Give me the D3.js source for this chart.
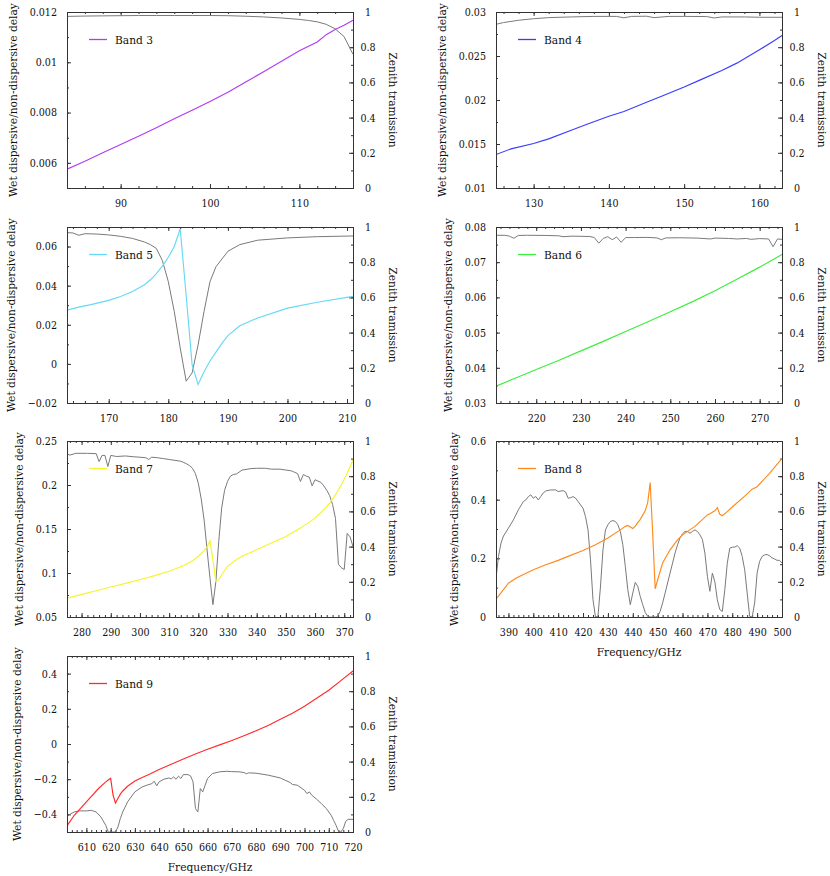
<!DOCTYPE html>
<html><head><meta charset="utf-8">
<script src="https://cdn.jsdelivr.net/npm/d3@7"></script>
<style>
html,body{margin:0;padding:0;background:#fff;}
</style></head><body>
<svg id="c" width="830" height="876"></svg>
<script>
// ---------- DATA ----------
const b3DelayGHz=[84,86,88,90,92,94,96,98,100,102,104,106,108,110,112,113,114,115,116];
const b3Delay=[0.00575,0.00606,0.0064,0.00673,0.00706,0.0074,0.00775,0.00809,0.00844,0.00881,0.00922,0.00962,0.01004,0.01046,0.01081,0.0111,0.0113,0.01147,0.01167];
const b3TransGHz=[84,86,88,90,92,94,96,98,100,102,104,106,108,110,111,112,113,114,115,116];
const b3Trans=[0.975,0.977,0.978,0.979,0.98,0.98,0.98,0.98,0.98,0.979,0.976,0.972,0.966,0.958,0.952,0.944,0.93,0.905,0.86,0.76];

const b4DelayGHz=[125,127,130,132,135,137,140,142,145,147,150,152,155,157,160,162,163];
const b4Delay=[0.0138,0.01445,0.01506,0.01558,0.01657,0.01721,0.01815,0.0187,0.01974,0.02042,0.02147,0.02223,0.02336,0.02419,0.0257,0.02675,0.02732];
const b4TransGHz=[125,126,128,130,132,135,138,141,142,143,145,146,148,150,153,154,155,158,160,163];
const b4Trans=[0.93,0.94,0.953,0.962,0.968,0.972,0.975,0.975,0.967,0.975,0.976,0.968,0.975,0.975,0.974,0.966,0.972,0.972,0.97,0.97];

const b5DelayGHz=[163,165,167,170,172,174,176,177,178,179,180,181,182,183,184,185,186,187,188,189,190,192,195,200,205,211];
const b5Delay=[0.0275,0.029,0.0303,0.0325,0.0345,0.037,0.0405,0.043,0.0462,0.05,0.0545,0.06,0.069,0.035,-0.0005,-0.0105,-0.004,0.0015,0.006,0.0105,0.0145,0.0195,0.0235,0.0285,0.0315,0.0345];
const b5TransGHz=[163,164,165,166,168,170,172,174,176,177,178,179,180,181,182,183,184,185,186,187,188,190,192,195,200,205,211];
const b5Trans=[0.968,0.966,0.953,0.962,0.96,0.955,0.947,0.935,0.915,0.9,0.878,0.81,0.69,0.52,0.313,0.124,0.171,0.33,0.52,0.69,0.774,0.862,0.9,0.925,0.938,0.945,0.949];

const b6DelayGHz=[211,215,220,225,230,235,240,245,250,255,260,265,270,275];
const b6Delay=[0.0348,0.0369,0.0395,0.0421,0.0448,0.0475,0.0503,0.0531,0.0559,0.0588,0.0619,0.0652,0.0686,0.0722];
const b6TransGHz=[211,213,214,215,216,218,222,225,226,228,230,232,233,234,235,236,237,238,239,240,242,245,247,248,249,252,256,259,260,263,265,267,268,270,272,273,274,275];
const b6Trans=[0.953,0.953,0.948,0.936,0.952,0.953,0.952,0.95,0.945,0.948,0.947,0.946,0.94,0.908,0.935,0.945,0.928,0.943,0.913,0.94,0.94,0.941,0.938,0.928,0.938,0.939,0.937,0.932,0.937,0.935,0.932,0.935,0.93,0.934,0.932,0.888,0.932,0.93];

const b7DelayGHz=[275,280,285,290,295,300,305,310,315,318,320,322,323,324,325,326,327,328,330,333,335,340,345,350,355,360,363,365,367,369,371,373];
const b7Delay=[0.0715,0.0757,0.0799,0.0841,0.0882,0.0924,0.097,0.102,0.1085,0.114,0.119,0.1255,0.13,0.1365,0.115,0.0906,0.0924,0.098,0.1075,0.115,0.119,0.1264,0.134,0.1415,0.151,0.1623,0.172,0.1793,0.189,0.2,0.2133,0.2285];
const b7TransGHz=[275,276,278,282,285,286,287,288,289,290,292,295,298,300,302,303,304,306,308,310,312,314,315,316,317,318,319,320,321,322,323,324,325,326,327,328,329,330,331,332,333,335,338,340,343,345,348,350,352,353,354,355,356,357,358,359,360,361,362,363,364,365,366,367,368,369,370,371,372,373];
const b7Trans=[0.926,0.92,0.93,0.93,0.928,0.883,0.918,0.918,0.855,0.918,0.912,0.915,0.91,0.908,0.905,0.895,0.908,0.905,0.9,0.895,0.89,0.885,0.878,0.87,0.86,0.845,0.815,0.76,0.67,0.55,0.38,0.22,0.07,0.2,0.43,0.62,0.72,0.77,0.8,0.81,0.812,0.835,0.843,0.845,0.845,0.84,0.84,0.835,0.83,0.822,0.815,0.77,0.81,0.8,0.795,0.745,0.78,0.772,0.765,0.745,0.72,0.69,0.64,0.56,0.3,0.28,0.27,0.475,0.455,0.4];

const b8DelayGHz=[385,387,390,393,395,400,405,410,415,420,425,430,435,437,438,440,441,443,445,446,447,448,449,450,452,455,458,460,465,470,471,473,474,475,476,478,480,485,488,490,495,500];
const b8Delay=[0.061,0.082,0.115,0.132,0.141,0.161,0.178,0.193,0.21,0.227,0.246,0.269,0.297,0.309,0.312,0.302,0.31,0.333,0.362,0.39,0.458,0.286,0.096,0.127,0.184,0.229,0.263,0.28,0.309,0.348,0.352,0.362,0.373,0.35,0.345,0.359,0.375,0.412,0.436,0.444,0.49,0.541];
const b8TransGHz=[385,386,387,388,390,392,394,396,397,398,399,400,401,402,403,404,405,407,409,410,412,413,414,415,416,417,418,420,421,422,423,424,425,426,427,428,429,430,431,432,433,434,435,436,437,438,439,440,441,442,443,444,445,446,447,449,450,451,452,453,454,455,456,457,458,459,460,461,462,463,464,465,466,467,468,469,470,471,472,473,474,475,476,477,478,479,480,481,482,483,484,485,486,487,488,489,490,491,492,493,494,495,496,497,498,499,500];
const b8Trans=[0.22,0.344,0.42,0.46,0.505,0.552,0.609,0.656,0.665,0.684,0.694,0.675,0.685,0.665,0.685,0.705,0.716,0.722,0.722,0.713,0.718,0.71,0.675,0.678,0.684,0.675,0.656,0.618,0.57,0.495,0.325,0.098,0,0.004,0.17,0.38,0.495,0.524,0.543,0.548,0.543,0.524,0.486,0.41,0.287,0.155,0.07,0.136,0.197,0.174,0.117,0.07,0.026,0.004,0,0,0.004,0.032,0.08,0.136,0.193,0.25,0.306,0.363,0.41,0.45,0.473,0.486,0.486,0.476,0.486,0.495,0.486,0.467,0.44,0.363,0.231,0.146,0.25,0.2,0.098,0.042,0.032,0.155,0.306,0.391,0.397,0.397,0.405,0.391,0.344,0.268,0.136,0.004,0,0.08,0.25,0.316,0.344,0.353,0.355,0.348,0.336,0.33,0.322,0.322,0.306];

const b9DelayGHz=[602,605,610,615,618,619,620,621,622,623,624,625,627,630,633,636,640,645,650,655,660,665,670,675,680,685,690,695,700,705,710,715,720];
const b9Delay=[-0.465,-0.405,-0.329,-0.253,-0.215,-0.205,-0.195,-0.29,-0.335,-0.31,-0.285,-0.267,-0.24,-0.21,-0.19,-0.172,-0.145,-0.115,-0.085,-0.057,-0.03,-0.005,0.02,0.047,0.075,0.105,0.14,0.175,0.215,0.26,0.305,0.36,0.415];
const b9TransGHz=[602,603,605,607,610,612,614,616,618,619,622,623,624,625,627,630,633,635,637,638,639,640,642,644,645,646,647,648,649,650,652,653,654,655,656,657,658,659,660,662,665,668,670,673,675,676,677,680,685,690,692,694,695,697,699,700,701,702,703,705,707,709,711,712,713,714,715,716,717,718,720];
const b9Trans=[0.085,0.099,0.114,0.12,0.12,0.123,0.114,0.085,0.038,0,0,0.028,0.076,0.114,0.171,0.228,0.256,0.266,0.275,0.288,0.262,0.285,0.3,0.307,0.302,0.313,0.3,0.317,0.304,0.326,0.326,0.318,0.285,0.133,0.114,0.247,0.228,0.266,0.304,0.332,0.342,0.345,0.343,0.342,0.338,0.331,0.336,0.334,0.323,0.307,0.294,0.282,0.27,0.266,0.247,0.237,0.218,0.228,0.209,0.186,0.161,0.133,0.095,0.066,0.038,0.004,0,0.019,0.061,0.072,0.072];

const b3XTicks=[90,100,110];
const b4XTicks=[130,140,150,160];
const b5XTicks=[170,180,190,200,210];
const b6XTicks=[220,230,240,250,260,270];
const b7XTicks=[280,290,300,310,320,330,340,350,360,370];
const b8XTicks=[390,400,410,420,430,440,450,460,470,480,490,500];
const b9XTicks=[610,620,630,640,650,660,670,680,690,700,710,720];
const b3YTicks=[0.006,0.008,0.01,0.012];
const b4YTicks=[0.01,0.015,0.02,0.025,0.03];
const b5YTicks=[-0.02,0,0.02,0.04,0.06];
const b6YTicks=[0.03,0.04,0.05,0.06,0.07,0.08];
const b7YTicks=[0.05,0.1,0.15,0.2,0.25];
const b8YTicks=[0,0.2,0.4,0.6];
const b9YTicks=[-0.4,-0.2,0,0.2,0.4];
const transTicks=[0,0.2,0.4,0.6,0.8,1];

const yTitle="Wet dispersive/non-dispersive delay";
const y2Title="Zenith tramission";
const xTitle="Frequency/GHz";

// ---------- LAYOUT ----------
const FONT="'DejaVu Serif', serif";
const STRETCH="condensed";
const W=286,H=176;
const colX=[67,496], rowY=[12,227,441,656];
const panels=[
 {name:"Band 3",color:"#b03cf5",col:0,row:0,xd:[84,116],yd:[0.005,0.012],xt:b3XTicks,yt:b3YTicks,ym:0.001,dx:b3DelayGHz,dy:b3Delay,tx:b3TransGHz,ty:b3Trans,xl:false},
 {name:"Band 4",color:"#3c3cff",col:1,row:0,xd:[125,163],yd:[0.01,0.03],xt:b4XTicks,yt:b4YTicks,ym:0.0025,dx:b4DelayGHz,dy:b4Delay,tx:b4TransGHz,ty:b4Trans,xl:false},
 {name:"Band 5",color:"#66d9f5",col:0,row:1,xd:[163,211],yd:[-0.02,0.07],xt:b5XTicks,yt:b5YTicks,ym:0.01,dx:b5DelayGHz,dy:b5Delay,tx:b5TransGHz,ty:b5Trans,xl:false},
 {name:"Band 6",color:"#3ded3d",col:1,row:1,xd:[211,275],yd:[0.03,0.08],xt:b6XTicks,yt:b6YTicks,ym:0.005,dx:b6DelayGHz,dy:b6Delay,tx:b6TransGHz,ty:b6Trans,xl:false},
 {name:"Band 7",color:"#f5f52a",col:0,row:2,xd:[275,373],yd:[0.05,0.25],xt:b7XTicks,yt:b7YTicks,ym:0.025,dx:b7DelayGHz,dy:b7Delay,tx:b7TransGHz,ty:b7Trans,xl:false},
 {name:"Band 8",color:"#ff8a1c",col:1,row:2,xd:[385,500],yd:[0,0.6],xt:b8XTicks,yt:b8YTicks,ym:0.1,dx:b8DelayGHz,dy:b8Delay,tx:b8TransGHz,ty:b8Trans,xl:true},
 {name:"Band 9",color:"#ff2b2b",col:0,row:3,xd:[602,720],yd:[-0.5,0.5],xt:b9XTicks,yt:b9YTicks,ym:0.1,dx:b9DelayGHz,dy:b9Delay,tx:b9TransGHz,ty:b9Trans,xl:true}
];

const fmt=v=>Math.abs(v)<1e-12?"0":String(+v.toPrecision(6)).replace("-","\u2212");
const svg=d3.select("#c");
const rng=(a,b,s)=>{const o=[];for(let v=Math.ceil(a/s-1e-9)*s;v<=b+s*1e-6;v+=s)o.push(+v.toPrecision(10));return o;};
const fit=(txt,target)=>{const t=svg.append("text").attr("font-family",FONT).attr("font-stretch",STRETCH).attr("font-size",20).text(txt);
  const w=t.node().getComputedTextLength();t.remove();return 20*target/w;};
const TICK_FS=Math.min(12.5,fit("0.012",27.3));
const LAB_FS=fit(yTitle,194);

panels.forEach((p,i)=>{
  const x0=colX[p.col], y0=rowY[p.row];
  const x=d3.scaleLinear().domain(p.xd).range([x0,x0+W]);
  const y=d3.scaleLinear().domain(p.yd).range([y0+H,y0]);
  const y2=d3.scaleLinear().domain([0,1]).range([y0+H,y0]);
  const g=svg.append("g");
  const cid="clip"+i;
  svg.append("clipPath").attr("id",cid).append("rect").attr("x",x0).attr("y",y0).attr("width",W+1).attr("height",H+1);

  const minorX=rng(p.xd[0],p.xd[1],2);
  const minorY=rng(p.yd[0],p.yd[1],p.ym);
  const minorY2=rng(0,1,0.1);
  const strip=a=>{a.attr("font-family",FONT).attr("font-stretch",STRETCH).attr("font-size",TICK_FS);a.select(".domain").remove();a.selectAll(".tick line").attr("stroke","#333");a.selectAll(".tick text").attr("fill","#111");};

  g.append("g").attr("transform",`translate(0,${y0+H})`).call(d3.axisBottom(x).tickValues(minorX).tickSize(-2).tickFormat("")).call(strip);
  g.append("g").attr("transform",`translate(0,${y0})`).call(d3.axisTop(x).tickValues(minorX).tickSize(-2).tickFormat("")).call(strip);
  g.append("g").attr("transform",`translate(${x0},0)`).call(d3.axisLeft(y).tickValues(minorY).tickSize(-2).tickFormat("")).call(strip);
  g.append("g").attr("transform",`translate(${x0+W},0)`).call(d3.axisRight(y2).tickValues(minorY2).tickSize(-2).tickFormat("")).call(strip);
  g.append("g").attr("transform",`translate(0,${y0+H})`).call(d3.axisBottom(x).tickValues(p.xt).tickSize(-4).tickPadding(11.5).tickFormat(fmt)).call(strip);
  g.append("g").attr("transform",`translate(0,${y0})`).call(d3.axisTop(x).tickValues(p.xt).tickSize(-4).tickFormat("")).call(strip);
  const la=g.append("g").attr("transform",`translate(${x0},0)`).call(d3.axisLeft(y).tickValues(p.yt).tickSize(-4).tickPadding(10).tickFormat(fmt)).call(strip);
  const ra=g.append("g").attr("transform",`translate(${x0+W},0)`).call(d3.axisRight(y2).tickValues(transTicks).tickSize(-4).tickPadding(15).tickFormat(fmt)).call(strip);
  ra.selectAll("text").attr("text-anchor","middle");

  const tr=d3.range(p.tx.length).map(k=>[p.tx[k],p.ty[k]]);
  const dl=d3.range(p.dx.length).map(k=>[p.dx[k],p.dy[k]]);
  g.append("path").datum(tr).attr("clip-path",`url(#${cid})`).attr("fill","none").attr("stroke","#7a7a7a").attr("stroke-width",1)
    .attr("d",d3.line().x(d=>x(d[0])).y(d=>y2(d[1])));
  g.append("path").datum(dl).attr("clip-path",`url(#${cid})`).attr("fill","none").attr("stroke",p.color).attr("stroke-width",1.15)
    .attr("d",d3.line().x(d=>x(d[0])).y(d=>y(d[1])));

  g.append("rect").attr("x",x0+0.5).attr("y",y0+0.5).attr("width",W).attr("height",H).attr("fill","none").attr("stroke","#333").attr("stroke-width",1);

  const lab=sel=>sel.attr("font-family",FONT).attr("font-stretch",STRETCH).attr("font-size",LAB_FS).attr("fill","#111");
  g.append("line").attr("x1",x0+22).attr("x2",x0+40).attr("y1",y0+27.5).attr("y2",y0+27.5).attr("stroke",p.color).attr("stroke-width",1.3);
  g.append("text").call(lab).attr("x",x0+48).attr("y",y0+31.5).text(p.name);

  let maxW=0; la.selectAll("text").each(function(){maxW=Math.max(maxW,this.getBBox().width);});
  const lx=x0-10-maxW-17;
  g.append("text").call(lab).attr("text-anchor","middle").attr("dominant-baseline","central")
    .attr("transform",`translate(${lx},${y0+H/2}) rotate(-90)`).text(yTitle);
  g.append("text").call(lab).attr("text-anchor","middle").attr("dominant-baseline","central")
    .attr("transform",`translate(${x0+W+40},${y0+H/2}) rotate(90)`).text(y2Title);
  if(p.xl) g.append("text").call(lab).attr("text-anchor","middle").attr("x",x0+W/2).attr("y",y0+H+39).text(xTitle);
});
</script>
</body></html>
